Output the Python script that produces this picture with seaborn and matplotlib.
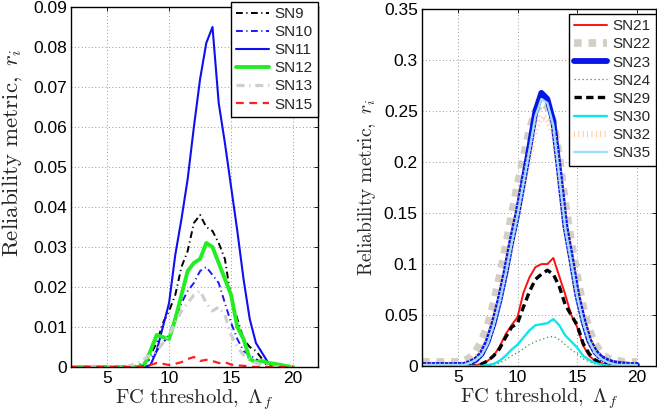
import numpy as np
import pandas as pd
import matplotlib
matplotlib.use("Agg")
import matplotlib.pyplot as plt
from matplotlib.ticker import FuncFormatter
import seaborn as sns

# ---------------- data ----------------
x = [2.0, 2.5, 3.0, 3.5, 4.0, 4.5, 5.0, 5.5, 6.0, 6.5, 7.0, 7.5, 8.0, 8.5, 9.0,
     9.5, 10.0, 10.5, 11.0, 11.5, 12.0, 12.5, 13.0, 13.5, 14.0, 14.5, 15.0,
     15.5, 16.0, 16.5, 17.0, 17.5, 18.0, 18.5, 19.0, 19.5, 20.0]

# left panel
sn9 = [0, 0, 0, 0, 0, 0, 0, 0, 0, 0, 0,
       0.0003, 0.001, 0.003, 0.006, 0.011, 0.014, 0.018, 0.025, 0.029, 0.036,
       0.038, 0.035, 0.034, 0.031, 0.027, 0.017, 0.012, 0.007, 0.005, 0.004,
       0.002, 0.001, 0, 0, 0, 0]
sn10 = [0, 0, 0, 0, 0, 0, 0, 0, 0, 0, 0,
        0.0005, 0.001, 0.002, 0.004, 0.006, 0.008, 0.012, 0.016, 0.019, 0.021,
        0.024, 0.025, 0.023, 0.021, 0.016, 0.011, 0.007, 0.004, 0.003, 0.002,
        0.001, 0.0005, 0, 0, 0, 0]
sn11 = [0, 0, 0, 0, 0, 0, 0, 0, 0, 0, 0, 0, 0,
        0.0005, 0.004, 0.010, 0.016, 0.028, 0.037, 0.047, 0.060, 0.072, 0.081,
        0.085, 0.066, 0.056, 0.045, 0.034, 0.022, 0.012, 0.006, 0.0035, 0.001,
        0, 0, 0, 0]
sn12 = [0, 0, 0, 0, 0, 0, 0, 0, 0, 0, 0, 0,
        0.0005, 0.004, 0.008, 0.0075, 0.007, 0.012, 0.018, 0.024, 0.026, 0.027,
        0.031, 0.030, 0.026, 0.022, 0.018, 0.010, 0.007, 0.002, 0.0012, 0.0015,
        0.001, 0.0008, 0.0005, 0.0002, 0]
sn13 = [0, 0, 0, 0, 0, 0, 0, 0, 0, 0,
        0.0005, 0.001, 0.002, 0.003, 0.004, 0.006, 0.008, 0.011, 0.014, 0.016,
        0.018, 0.019, 0.016, 0.014, 0.015, 0.013, 0.008, 0.005, 0.003, 0.002,
        0.001, 0.0005, 0, 0, 0, 0, 0]
sn15 = [0, 0, 0, 0, 0, 0, 0, 0, 0, 0, 0, 0,
        0.0003, 0.0005, 0.001, 0.0008, 0.0005, 0.0008, 0.0012, 0.002, 0.0025,
        0.0015, 0.0018, 0.0015, 0.001, 0.0012, 0.0006, 0.0004, 0.0003, 0.0001,
        0, 0, 0, 0, 0, 0, 0]

# right panel
sn21 = [0, 0, 0, 0, 0, 0, 0, 0, 0,
        0.001, 0.002, 0.005, 0.010, 0.019, 0.031, 0.040, 0.048, 0.072, 0.087,
        0.097, 0.100, 0.100, 0.106, 0.088, 0.070, 0.050, 0.038, 0.020, 0.010,
        0.005, 0.003, 0.001, 0.0005, 0, 0, 0, 0]
sn22 = [0.004, 0.004, 0.004, 0.004, 0.004, 0.004, 0.004,
        0.005, 0.008, 0.014, 0.025, 0.040, 0.062, 0.088, 0.117, 0.148, 0.178,
        0.205, 0.232, 0.250, 0.258, 0.255, 0.240, 0.205, 0.160, 0.122, 0.088,
        0.058, 0.036, 0.022, 0.013, 0.008, 0.006, 0.005, 0.004, 0.004, 0.004]
sn23 = [0.001, 0.001, 0.001, 0.001, 0.001, 0.001, 0.001, 0.001,
        0.003, 0.006, 0.012, 0.024, 0.042, 0.065, 0.092, 0.123, 0.150, 0.182,
        0.215, 0.250, 0.268, 0.262, 0.240, 0.190, 0.138, 0.105, 0.070, 0.045,
        0.025, 0.014, 0.008, 0.005, 0.003, 0.002, 0.0015, 0.001, 0.001]
sn24 = [0, 0, 0, 0, 0, 0, 0, 0, 0, 0, 0, 0,
        0.001, 0.003, 0.006, 0.010, 0.013, 0.017, 0.021, 0.024, 0.026, 0.028,
        0.029, 0.026, 0.021, 0.016, 0.012, 0.007, 0.004, 0.002, 0.001,
        0, 0, 0, 0, 0, 0]
sn29 = [0, 0, 0, 0, 0, 0, 0, 0, 0, 0,
        0.002, 0.005, 0.010, 0.017, 0.028, 0.038, 0.042, 0.058, 0.073, 0.085,
        0.090, 0.094, 0.090, 0.078, 0.060, 0.050, 0.040, 0.022, 0.012, 0.006,
        0.003, 0.002, 0.001, 0, 0, 0, 0]
sn30 = [0, 0, 0, 0, 0, 0, 0, 0, 0, 0, 0,
        0.001, 0.002, 0.005, 0.010, 0.016, 0.021, 0.028, 0.035, 0.040, 0.041,
        0.042, 0.046, 0.040, 0.030, 0.024, 0.018, 0.010, 0.006, 0.003, 0.0015,
        0.0005, 0, 0, 0, 0, 0]
sn32 = [0.002, 0.002, 0.002, 0.002, 0.002, 0.002, 0.002, 0.002,
        0.004, 0.008, 0.014, 0.026, 0.045, 0.068, 0.095, 0.124, 0.150, 0.178,
        0.205, 0.232, 0.245, 0.242, 0.228, 0.188, 0.140, 0.106, 0.072, 0.047,
        0.027, 0.015, 0.008, 0.005, 0.003, 0.002, 0.001, 0.001, 0.001]
sn35 = [0.001, 0.001, 0.001, 0.001, 0.001, 0.001, 0.001, 0.001,
        0.003, 0.006, 0.011, 0.022, 0.040, 0.063, 0.090, 0.120, 0.148, 0.180,
        0.212, 0.245, 0.262, 0.258, 0.236, 0.186, 0.135, 0.102, 0.068, 0.043,
        0.024, 0.013, 0.007, 0.004, 0.002, 0.001, 0.001, 0.001, 0.001]

left_labels = ["SN9", "SN10", "SN11", "SN12", "SN13", "SN15"]
right_labels = ["SN21", "SN22", "SN23", "SN24", "SN29", "SN30", "SN32", "SN35"]
left_yticks = [0, 0.01, 0.02, 0.03, 0.04, 0.05, 0.06, 0.07, 0.08, 0.09]
right_yticks = [0, 0.05, 0.1, 0.15, 0.2, 0.25, 0.3, 0.35]
xticks = [5, 10, 15, 20]

# ---------------- style ----------------
sns.set_theme(style="white")
plt.rcParams["font.family"] = ["Liberation Sans", "DejaVu Sans"]
plt.rcParams["mathtext.fontset"] = "cm"

left_styles = {
    "SN9": dict(color="black", lw=1.4, dashes=(3.5, 1.8, 0.6, 1.8)),
    "SN10": dict(color="#1a1aff", lw=1.4, dashes=(3.5, 1.8, 0.6, 1.8)),
    "SN11": dict(color="#1010ee", lw=1.5, dashes=None),
    "SN12": dict(color="#22ee22", lw=2.8, dashes=None),
    "SN13": dict(color="#cfcfcf", lw=2.3, dashes=(2.5, 1.5, 0.4, 1.5)),
    "SN15": dict(color="#ff2020", lw=1.6, dashes=(3.5, 2.5)),
}
right_styles = {
    "SN21": dict(color="#ff1010", lw=1.4, dashes=None),
    "SN22": dict(color="#d3cec6", lw=5.5, dashes=(1.0, 0.9)),
    "SN23": dict(color="#0a14e6", lw=4.2, dashes=None),
    "SN24": dict(color="#2f9a2f", lw=0.9, dashes=(1.0, 2.2)),
    "SN29": dict(color="black", lw=2.4, dashes=(2.2, 1.3)),
    "SN30": dict(color="#10e6ee", lw=1.7, dashes=None),
    "SN32": dict(color="#ffc896", lw=4.5, dashes=(0.15, 0.55)),
    "SN35": dict(color="#a0ddff", lw=1.7, dashes=None),
}

fig = plt.figure(figsize=(6.57, 4.16), dpi=100)
W, H = 657.0, 416.0
axL = fig.add_axes([71 / W, (H - 367) / H, (318 - 71) / W, (367 - 7) / H])
axR = fig.add_axes([422 / W, (H - 366) / H, (656 - 422) / W, (366 - 9.3) / H])

def draw(ax, labels, series, styles):
    for lab, vals in zip(labels, series):
        st = styles[lab]
        df = pd.DataFrame({"x": x, "y": vals})
        sns.lineplot(data=df, x="x", y="y", ax=ax, color=st["color"],
                     linewidth=st["lw"], label=lab, legend=False)
        line = ax.get_lines()[-1]
        if st["dashes"] is not None:
            line.set_linestyle((0, st["dashes"]))
        line.set_dash_capstyle("butt")
        line.set_solid_joinstyle("round")

draw(axL, left_labels, [sn9, sn10, sn11, sn12, sn13, sn15], left_styles)
draw(axR, right_labels, [sn21, sn22, sn23, sn24, sn29, sn30, sn32, sn35], right_styles)

fmt = FuncFormatter(lambda v, p: "%g" % round(v, 4))
for ax, yt, xl, yl in [(axL, left_yticks, (2.1, 22.0), (0, 0.09)),
                       (axR, right_yticks, (2.0, 21.6), (0, 0.35))]:
    ax.set_xlim(*xl)
    ax.set_ylim(*yl)
    ax.set_xticks(xticks)
    ax.set_yticks(yt)
    ax.yaxis.set_major_formatter(fmt)
    ax.grid(True, color="#9a9a9a", linestyle=(0, (1, 2.5)), linewidth=0.7)
    ax.tick_params(direction="in", length=3, width=0.6, top=True, right=True,
                   labelsize=12.5, colors="black", pad=3)
    for s in ax.spines.values():
        s.set_color("black")
        s.set_linewidth(1.0)
    ax.set_xlabel(r"$\mathrm{FC\ threshold,}\ \Lambda_f$", fontsize=14.8, labelpad=1)
    ax.set_facecolor("white")

axL.set_ylabel(r"$\mathrm{Reliability\ metric,}\ r_i$", fontsize=16.5)
axR.set_ylabel(r"$\mathrm{Reliability\ metric,}\ r_i$", fontsize=14)
axL.yaxis.set_label_coords(-0.19, 0.594)
axR.yaxis.set_label_coords(-0.19, 0.50)

for ax, top in [(axL, 1.015), (axR, 0.987)]:
    leg = ax.legend(loc="upper right", bbox_to_anchor=(1.0, top), fontsize=11,
                    frameon=True, fancybox=False, framealpha=1, edgecolor="black",
                    handlelength=2.15, labelspacing=0.27, borderaxespad=0,
                    borderpad=0.35, handletextpad=0.35)
    leg.get_frame().set_linewidth(1.0)
    leg.set_zorder(10)

fig.savefig("out.png", dpi=100, facecolor="white")
